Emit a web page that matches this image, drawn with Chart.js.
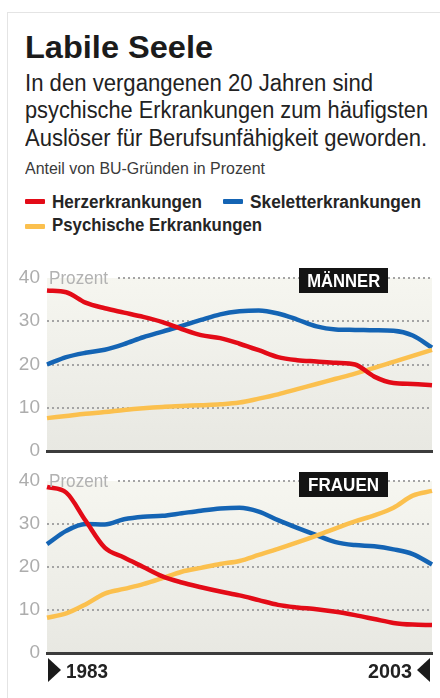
<!DOCTYPE html>
<html lang="de">
<head>
<meta charset="utf-8">
<title>Labile Seele</title>
<script src="https://cdn.jsdelivr.net/npm/chart.js@4.4.1/dist/chart.umd.min.js"></script>
<style>
  html, body { margin: 0; padding: 0; background: #fff; }
  body { width: 440px; height: 698px; position: relative; overflow: hidden;
         font-family: "Liberation Sans", Arial, sans-serif; }
  .frame { position: absolute; left: 7px; top: 12px; width: 440px; height: 700px;
           border-top: 1px solid #e4e4e4; border-left: 1px solid #e4e4e4; }
  .t { position: absolute; white-space: nowrap; display: inline-block; transform-origin: left center; }
  .title { left: 25px; top: 31px; font-size: 32px; line-height: 32px; font-weight: bold; color: #1b1b1b; }
  .sub { left: 25px; font-size: 23px; line-height: 23px; color: #222; }
  .note { left: 25px; top: 161px; font-size: 16px; line-height: 16px; color: #3a3a3a; }
  .leg { font-size: 18px; line-height: 18px; font-weight: bold; color: #252525; }
  .sw { position: absolute; width: 20px; height: 5px; border-radius: 1px; }
  canvas { position: absolute; left: 0; }
  .unit { left: 49px; font-size: 19px; line-height: 19px; color: #b2b2b2; }
  .badge { position: absolute; left: 299px; width: 89px; height: 25px; background: #141414;
           display: flex; align-items: center; justify-content: center; overflow: hidden; }
  .badge span { color: #fff; font-weight: bold; font-size: 19px; line-height: 19px; white-space: nowrap;
                display: inline-block; transform-origin: center center; }
  .year { top: 660px; font-size: 21px; line-height: 21px; font-weight: bold; color: #222; }
  .tri { position: absolute; top: 658px; width: 0; height: 0;
         border-top: 12px solid transparent; border-bottom: 12px solid transparent; }
</style>
</head>
<body>
<div class="frame"></div>

<div class="t title" data-w="188">Labile Seele</div>
<div class="t sub" style="top:72px" data-w="348">In den vergangenen 20 Jahren sind</div>
<div class="t sub" style="top:99px" data-w="403">psychische Erkrankungen zum häufigsten</div>
<div class="t sub" style="top:127px" data-w="402">Auslöser für Berufsunfähigkeit geworden.</div>
<div class="t note" data-w="240">Anteil von BU-Gründen in Prozent</div>

<div class="sw" style="left:25px;top:199px;background:#e30b17"></div>
<div class="t leg" style="left:52px;top:193px" data-w="150">Herzerkrankungen</div>
<div class="sw" style="left:223px;top:199px;background:#1464b4"></div>
<div class="t leg" style="left:250px;top:193px" data-w="171">Skeletterkrankungen</div>
<div class="sw" style="left:25px;top:224px;background:#fbc04e"></div>
<div class="t leg" style="left:52px;top:216px" data-w="210">Psychische Erkrankungen</div>

<canvas id="chartM" width="440" height="220" style="top:250px"></canvas>
<canvas id="chartF" width="440" height="220" style="top:455px"></canvas>

<div class="t unit" style="top:268px" data-w="59">Prozent</div>
<div class="t unit" style="top:471px" data-w="59">Prozent</div>
<div class="badge" style="top:268px"><span data-w="73">MÄNNER</span></div>
<div class="badge" style="top:472px"><span data-w="71">FRAUEN</span></div>

<div class="tri" style="left:48px;border-left:13px solid #1a1a1a"></div>
<div class="t year" style="left:66px" data-w="42">1983</div>
<div class="t year" style="left:368px" data-w="44">2003</div>
<div class="tri" style="left:417px;border-right:13px solid #1a1a1a"></div>

<script>
// Jahre 1983-2003
const years = [1983,1984,1985,1986,1987,1988,1989,1990,1991,1992,1993,1994,1995,1996,1997,1998,1999,2000,2001,2002,2003];
const yTicks = [0, 10, 20, 30, 40];

// Männer
const maennerHerz    = [37.1,36.7,34.3,33.0,32.0,31.0,29.8,28.2,26.8,26.1,24.8,23.3,21.7,21.0,20.7,20.4,20.0,17.2,15.7,15.5,15.2];
const maennerSkelett = [20.0,21.7,22.7,23.4,24.7,26.3,27.6,28.9,30.3,31.6,32.3,32.5,31.8,30.4,28.8,28.1,28.0,27.9,27.8,26.7,23.9];
const maennerPsych   = [7.6,8.1,8.6,9.0,9.5,9.9,10.2,10.4,10.6,10.8,11.2,12.1,13.1,14.3,15.5,16.7,17.9,19.2,20.6,22.0,23.4];

// Frauen
const frauenHerz    = [38.6,37.3,30.8,24.5,22.2,20.0,17.8,16.4,15.3,14.3,13.4,12.3,11.2,10.6,10.2,9.6,8.8,7.9,7.0,6.6,6.5];
const frauenSkelett = [25.3,28.4,30.0,29.9,31.1,31.7,31.9,32.5,33.1,33.6,33.8,32.9,30.9,29.1,27.4,25.8,25.1,24.8,24.1,23.0,20.6];
const frauenPsych   = [8.2,9.2,11.3,13.8,14.9,16.0,17.4,18.9,19.8,20.7,21.4,22.8,24.2,25.7,27.3,29.0,30.6,32.0,33.8,36.6,37.7];

const RED = '#e30b17', BLUE = '#1464b4', YELLOW = '#fbc04e';
const GRID = '#a4a4a4';

// Text auf Zielbreite stauchen
document.querySelectorAll('[data-w]').forEach(el => {
  const w = +el.dataset.w;
  const nat = el.getBoundingClientRect().width;
  if (nat > 0) el.style.transform = 'scaleX(' + (w / nat) + ')';
});

const panelBg = {
  id: 'panelBg',
  beforeDraw(chart) {
    const { ctx, chartArea: a } = chart;
    const g = ctx.createLinearGradient(0, a.top, 0, a.bottom);
    g.addColorStop(0, '#f6f6f0');
    g.addColorStop(1, '#e8e8e2');
    ctx.save();
    ctx.fillStyle = g;
    ctx.fillRect(a.left, a.top, a.right - a.left, a.bottom - a.top);
    ctx.restore();
  },
  beforeDatasetsDraw(chart) {
    // oberste Rasterlinie erst hinter dem Wort "Prozent"
    const { ctx, chartArea: a, scales } = chart;
    const y = scales.y.getPixelForValue(40);
    ctx.save();
    ctx.strokeStyle = GRID;
    ctx.lineWidth = 2;
    ctx.setLineDash([2, 3]);
    ctx.beginPath();
    ctx.moveTo(118, y);
    ctx.lineTo(a.right, y);
    ctx.stroke();
    ctx.restore();
  },
  afterDatasetsDraw(chart) {
    const { ctx, chartArea: a } = chart;
    ctx.save();
    ctx.strokeStyle = '#3c3c3c';
    ctx.lineWidth = 3;
    ctx.beginPath();
    ctx.moveTo(a.left - 1, a.bottom + 0.5);
    ctx.lineTo(a.right + 1, a.bottom + 0.5);
    ctx.stroke();
    ctx.restore();
  }
};

function line(label, data, color, order) {
  return {
    label: label, data: data, borderColor: color, backgroundColor: color,
    borderWidth: 4.5, pointRadius: 0, cubicInterpolationMode: 'monotone',
    borderCapStyle: 'butt', borderJoinStyle: 'round', order: order, fill: false
  };
}

function makeChart(id, herz, skelett, psych, padTop, padBottom) {
  return new Chart(document.getElementById(id), {
    type: 'line',
    data: {
      labels: years,
      datasets: [
        line('Herzerkrankungen', herz, RED, 0),
        line('Psychische Erkrankungen', psych, YELLOW, 1),
        line('Skeletterkrankungen', skelett, BLUE, 2)
      ]
    },
    options: {
      responsive: false, animation: false, devicePixelRatio: 1,
      layout: { padding: { left: 0, right: 8, top: padTop, bottom: padBottom } },
      plugins: { legend: { display: false }, tooltip: { enabled: false } },
      scales: {
        x: { display: false },
        y: {
          min: 0, max: 40,
          afterFit: s => { s.width = 47; },
          afterBuildTicks: s => { s.ticks = yTicks.map(v => ({ value: v })); },
          ticks: { color: '#adadad', padding: 7, font: { family: 'Liberation Sans', size: 19 } },
          grid: {
            drawTicks: false, lineWidth: 2,
            color: c => (c.tick && (c.tick.value === 0 || c.tick.value === 40)) ? 'rgba(0,0,0,0)' : GRID
          },
          border: { display: false, dash: [2, 3] }
        }
      }
    },
    plugins: [panelBg]
  });
}

makeChart('chartM', maennerHerz, maennerSkelett, maennerPsych, 28, 19);
makeChart('chartF', frauenHerz, frauenSkelett, frauenPsych, 26, 22);
</script>
</body>
</html>
